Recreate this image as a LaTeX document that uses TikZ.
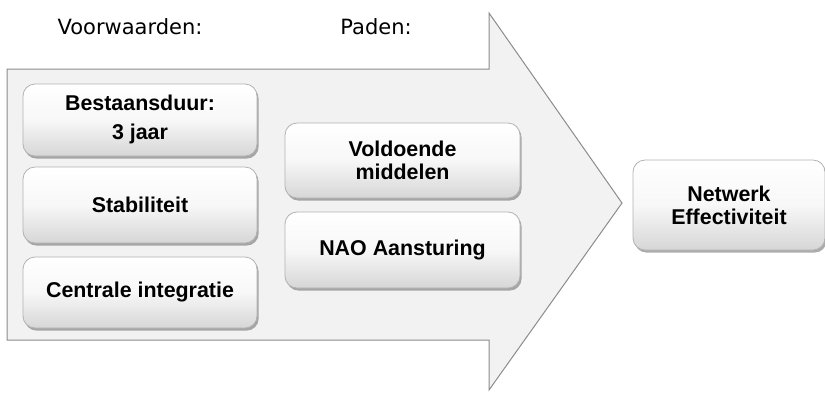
\documentclass[tikz,border=0pt]{standalone}
\usepackage{fontspec}
\setmainfont{Liberation Sans}
\newfontfamily\labelfont{DejaVu Sans}
\usetikzlibrary{shadows}
\tikzset{
  arrowshape/.style={fill=black!5, draw=black!45, line width=0.5pt},
  btn/.style={rectangle, rounded corners=6pt, draw=black!30, line width=0.4pt,
    top color=white, bottom color=black!16, middle color=black!3,
    drop shadow={shadow xshift=0.8pt, shadow yshift=-1.3pt, opacity=0.5, fill=black!65},
    align=center, font=\fontsize{10.7}{11.6}\selectfont\bfseries, text=black,
    inner sep=0pt},
  toplabel/.style={font=\labelfont\fontsize{10.5}{12}\selectfont, text=black, inner sep=0pt}
}
\begin{document}
\begin{tikzpicture}[x=0.5pt,y=-0.5pt]
\useasboundingbox (0,0) rectangle (825,393);
% big arrow
\coordinate (a1) at (7,69);
\coordinate (a2) at (489,69);
\coordinate (a3) at (489,13);
\coordinate (tip) at (622,203);
\coordinate (a5) at (489,390);
\coordinate (a6) at (489,340);
\coordinate (a7) at (7,340);
\draw[arrowshape] (a1) -- (a2) -- (a3) -- (tip) -- (a5) -- (a6) -- (a7) -- cycle;
% labels
\node[toplabel] (voorw) at (130,27) {Voorwaarden:};
\node[toplabel] (paden) at (376,27) {Paden:};
% left column
\node[btn, minimum width=117pt, minimum height=36pt] (bestaan) at (140,120)
  {\begin{tabular}{@{}c@{}}Bestaansduur:\\[3pt]3 jaar\end{tabular}};
\node[btn, minimum width=117pt, minimum height=38pt] (stab) at (140,205) {Stabiliteit};
\node[btn, minimum width=117pt, minimum height=35.5pt] (centr) at (140,292.5) {Centrale integratie};
% middle column
\node[btn, minimum width=117.5pt, minimum height=37.5pt] (vold) at (402.5,160.5)
  {Voldoende\\middelen};
\node[btn, minimum width=117.5pt, minimum height=38pt] (nao) at (402.5,250) {NAO Aansturing};
% result
\node[btn, minimum width=96pt, minimum height=45pt] (netw) at (729,205)
  {Netwerk\\Effectiviteit};
\end{tikzpicture}
\end{document}
